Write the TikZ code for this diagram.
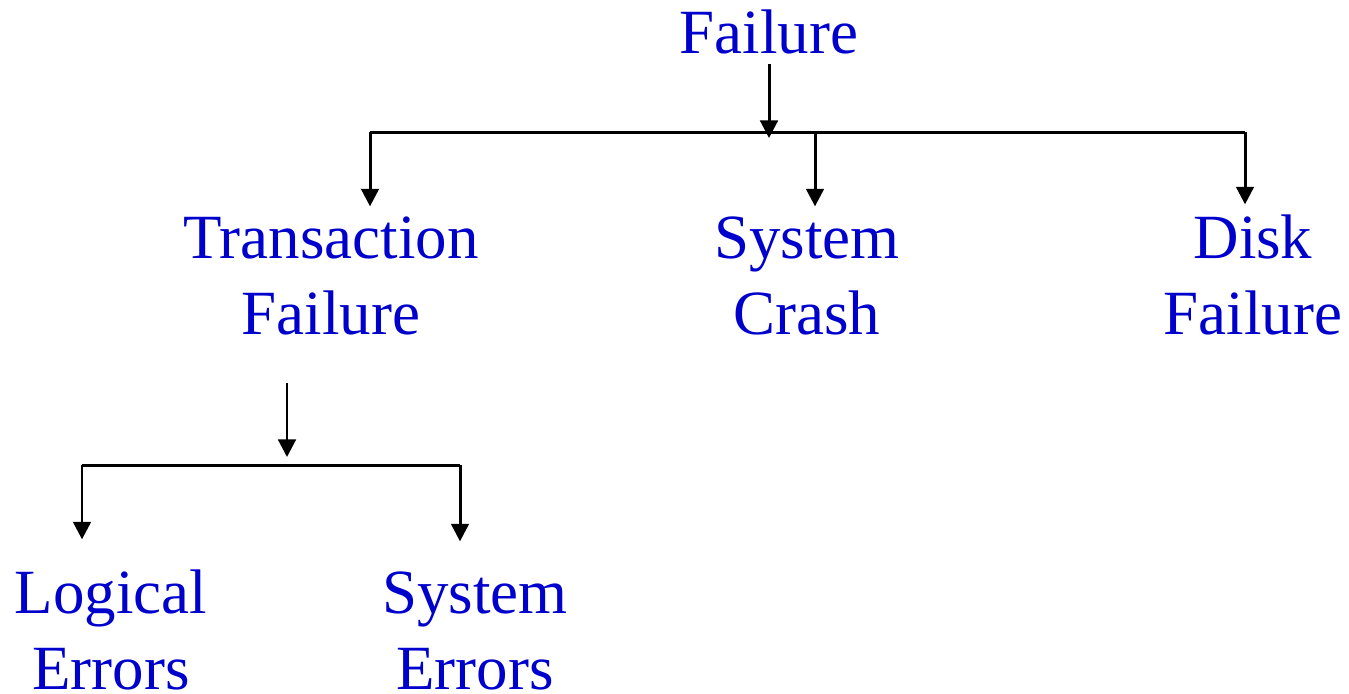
\documentclass[tikz,border=0pt]{standalone}
\usepackage{xcolor}
\usepackage{fontspec}
\setmainfont{Liberation Serif}
\usetikzlibrary{arrows.meta,calc}
\definecolor{failblue}{RGB}{0,0,204}
\tikzstyle{every node}=[font=\fontsize{17.9}{21.6}\selectfont,
  text=failblue, align=center, inner sep=0pt, outer sep=0.1cm]
\tikzstyle{lower}=[outer sep=0.3cm]
\tikzstyle{bar}=[draw, line width=0.85pt]
\tikzstyle{line}=[bar, -{Triangle[length=5pt,width=5pt]}]
\newcommand{\drop}[2]{
\draw[line] (#1) -- (#1 |- #2.north);
}

\begin{document}
\begin{tikzpicture}[x=0.01cm, y=-0.01cm]
    \useasboundingbox (0,0) rectangle (1349,693);
    % the failure classes
    \node (failure) [anchor=base] at (769,53) {Failure};
    \node (trans) [anchor=base] at (331,334) {Transaction\\Failure};
    \node (crash) [anchor=base] at (807,334) {System\\Crash};
    \node (disk) [anchor=base] at (1253,334) {Disk\\Failure};
    \node (logical) [lower, anchor=base] at (111,689) {Logical\\Errors};
    \node (syserr) [lower, anchor=base] at (475,689) {System\\Errors};
    % first level
    \coordinate (barA) at (370,132);
    \coordinate (barB) at (815,132);
    \coordinate (barC) at (1245,132);
    \coordinate (hubA) at (769,138);
    \draw[line] (failure) -- (hubA);
    \draw[bar] (barA) -- (barC);
    \drop{barA}{trans}
    \drop{barB}{crash}
    \drop{barC}{disk}
    % second level
    \coordinate (barD) at (82,465);
    \coordinate (barE) at (460,465);
    \coordinate (hubB) at (287,457);
    \draw[line, shorten <=0.38cm] (trans.south -| hubB) -- (hubB);
    \draw[bar] (barD) -- (barE);
    \drop{barD}{logical}
    \drop{barE}{syserr}
\end{tikzpicture}
\end{document}
